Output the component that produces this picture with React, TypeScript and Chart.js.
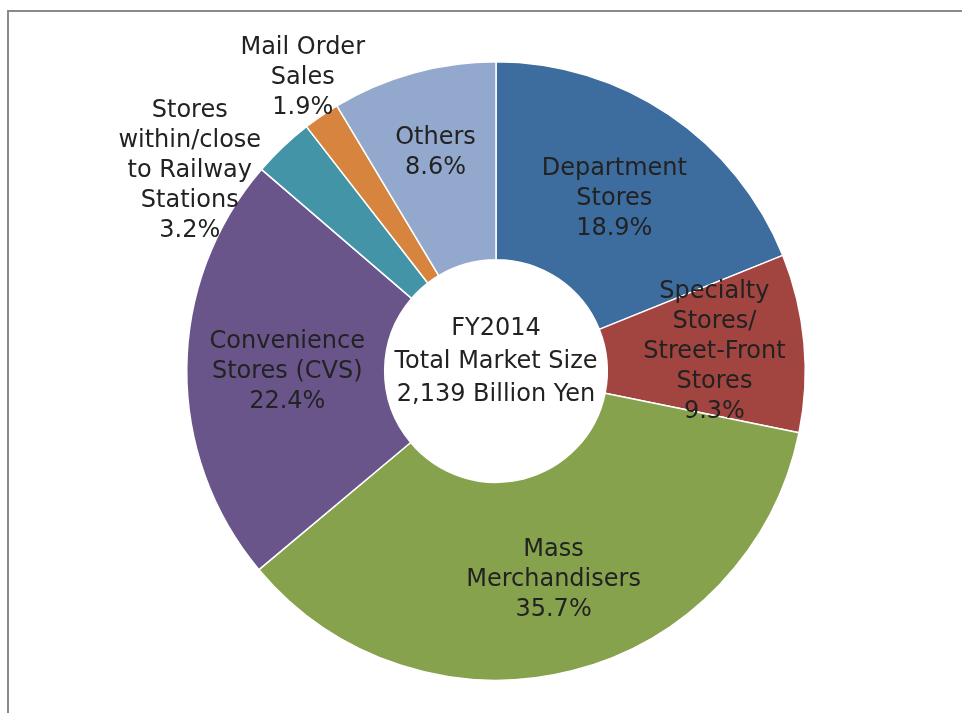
import { useEffect, useRef } from "react";
import { Chart, registerables } from "chart.js";

Chart.register(...registerables);

// ---- data ----
const categories = [
  "Department Stores",
  "Specialty Stores/Street-Front Stores",
  "Mass Merchandisers",
  "Convenience Stores (CVS)",
  "Stores within/close to Railway Stations",
  "Mail Order Sales",
  "Others",
];
const labelLines = [
  ["Department", "Stores"],
  ["Specialty", "Stores/", "Street-Front", "Stores"],
  ["Mass", "Merchandisers"],
  ["Convenience", "Stores (CVS)"],
  ["Stores", "within/close", "to Railway", "Stations"],
  ["Mail Order", "Sales"],
  ["Others"],
];
const shares = [18.9, 9.3, 35.7, 22.4, 3.2, 1.9, 8.6];
const centerLines = ["FY2014", "Total Market Size", "2,139 Billion Yen"];

// ---- styles ----
const colors = ["#3D6C9E", "#A2443F", "#86A24D", "#6A558B", "#4394A7", "#D7843F", "#93A8CD"];
// label placement: radius as fraction of outer radius, angular shift in degrees
const placement = [
  { r: 0.675, shift: 0.5 },
  { r: 0.709, shift: 0.2 },
  { r: 0.70, shift: -1.2 },
  { r: 0.675, shift: -0.5 },
  { r: 1.184, shift: -13.2 },
  { r: 1.136, shift: 1 },
  { r: 0.733, shift: 0 },
];
const FONT = "24px 'DejaVu Sans'";
const TEXT_COLOR = "#222222";

const labelPlugin = {
  id: "sliceLabels",
  beforeDraw(chart: any) {
    const ctx = chart.ctx;
    ctx.save();
    ctx.fillStyle = "#8a8a8a";
    ctx.fillRect(7, 10, chart.width - 7, 2);
    ctx.fillRect(7, 10, 2, chart.height - 10);
    ctx.restore();
  },
  afterDatasetsDraw(chart: any) {
    const ctx = chart.ctx;
    const meta = chart.getDatasetMeta(0);
    ctx.save();
    ctx.font = FONT;
    ctx.fillStyle = TEXT_COLOR;
    ctx.textAlign = "center";
    ctx.textBaseline = "middle";
    let cx0 = 0,
      cy0 = 0;
    meta.data.forEach((arc: any, i: number) => {
      const p = arc.getProps(["x", "y", "startAngle", "endAngle", "outerRadius"], true);
      cx0 = p.x;
      cy0 = p.y;
      const mid = (p.startAngle + p.endAngle) / 2 + (placement[i].shift * Math.PI) / 180;
      const r = p.outerRadius * placement[i].r;
      const x = p.x + Math.cos(mid) * r;
      const y = p.y + Math.sin(mid) * r;
      const lines = [...labelLines[i], shares[i].toFixed(1) + "%"];
      const lh = 30;
      lines.forEach((t, k) => {
        ctx.fillText(t, x, y + (k - (lines.length - 1) / 2) * lh);
      });
    });
    const clh = 33;
    centerLines.forEach((t, k) => {
      ctx.fillText(t, cx0, cy0 - 9.5 + (k - (centerLines.length - 1) / 2) * clh);
    });
    ctx.restore();
  },
};

export default function App() {
  const ref = useRef<HTMLCanvasElement | null>(null);
  useEffect(() => {
    if (!ref.current) return;
    const chart = new Chart(ref.current, {
      type: "doughnut",
      data: {
        labels: categories,
        datasets: [
          {
            data: shares,
            backgroundColor: colors,
            borderColor: "#ffffff",
            borderWidth: 1.5,
          },
        ],
      },
      options: {
        responsive: false,
        animation: false,
        cutout: "36%",
        layout: { padding: { left: 186, right: 156, top: 61, bottom: 32 } },
        plugins: {
          legend: { display: false },
          tooltip: { enabled: false },
        },
      },
      plugins: [labelPlugin],
    });
    return () => chart.destroy();
  }, []);
  return (
    <div style={{ position: "fixed", left: 0, top: 0, width: 962, height: 713, background: "#fff" }}>
      <canvas ref={ref} width={962} height={713} style={{ width: 962, height: 713 }} />
    </div>
  );
}
